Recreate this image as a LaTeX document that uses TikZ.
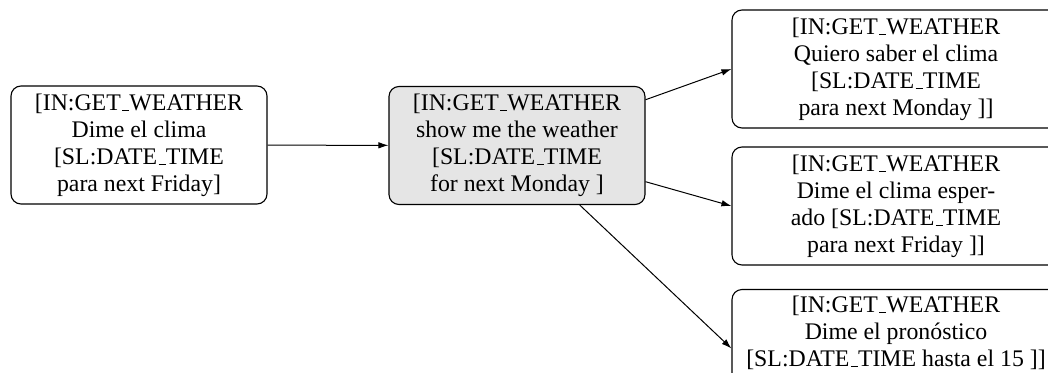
\documentclass[tikz,border=0pt]{standalone}
\usepackage{fontspec}
\setmainfont{Liberation Serif}
\usetikzlibrary{arrows.meta}
% classic LaTeX underscore: a short rule sitting on the baseline
\newcommand\undsc{\leavevmode\kern.06em\vbox{\hrule width.3em}}
\begin{document}
\begin{tikzpicture}[x=1pt,y=-1pt,
  box/.style={draw, rounded corners=10pt, line width=1.1pt, align=center,
    font=\fontsize{23.8}{27}\selectfont, inner sep=0pt,
    minimum width=256pt, minimum height=118pt},
  wide/.style={box, minimum width=328pt},
  link/.style={line width=1pt, -{Latex[length=10pt,width=6.5pt]}}]
\useasboundingbox (0,0) rectangle (1048,372);
\clip (0,0) rectangle (1048,372);

\node[box] (src) at (139,145)
  {[IN:GET\undsc WEATHER\\Dime el clima\\{[}SL:DATE\undsc TIME\\para next Friday]};
\node[box, fill=gray!20] (mid) at (517,145.5)
  {[IN:GET\undsc WEATHER\\show me the weather\\{[}SL:DATE\undsc TIME\\for next Monday ]};

\node[wide] (r1) at (896,69)
  {[IN:GET\undsc WEATHER\\Quiero saber el clima\\{[}SL:DATE\undsc TIME\\para next Monday ]]};
\node[wide] (r2) at (896,206)
  {[IN:GET\undsc WEATHER\\Dime el clima esper-\\ado [SL:DATE\undsc TIME\\para next Friday ]]};
\node[wide] (r3) at (896,348.5)
  {[IN:GET\undsc WEATHER\\Dime el pronóstico\\{[}SL:DATE\undsc TIME hasta el 15 ]]\\\strut};

\draw[link] (src) -- (mid);
\draw[link] (mid) -- (r1.west);
\draw[link] (mid) -- (r2.west);
\draw[link] (mid) -- (r3.west);
\end{tikzpicture}
\end{document}
